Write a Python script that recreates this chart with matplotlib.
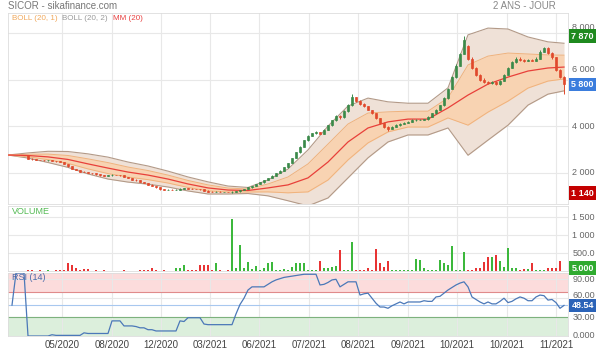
import matplotlib
matplotlib.use('Agg')
import matplotlib.pyplot as plt
import numpy as np

plt.rcParams['font.family'] = ['Liberation Sans', 'DejaVu Sans']

W, H = 600, 351

# ---- données ----
first_candle = 5          # les 5 premières séances : cours plat, pas de bougie

opens = [2760, 2620, 2580, 2560, 2550, 2540, 2540, 2520, 2500, 2470,
         2380, 2280, 2180, 2120, 2060, 2040, 2000, 1980, 1940, 1900,
         1870, 1900, 1920, 1910, 1900, 1830, 1780, 1720, 1680, 1620,
         1560, 1500, 1440, 1380, 1300, 1290, 1290, 1280, 1290, 1330,
         1350, 1330, 1320, 1310, 1300, 1240, 1200, 1190, 1200, 1190,
         1190, 1180, 1200, 1210, 1260, 1310, 1380, 1450, 1520, 1600,
         1690, 1790, 1890, 1990, 2100, 2240, 2420, 2640, 2880, 3130,
         3400, 3600, 3700, 3750, 3680, 3850, 4050, 4250, 4450, 4380,
         4650, 4900, 5250, 5100, 4950, 4850, 4700, 4550, 4350, 4150,
         3980, 3900, 3980, 4050, 4100, 4150, 4200, 4250, 4270, 4280,
         4300, 4420, 4550, 4700, 4900, 5200, 5600, 6100, 6600, 7100,
         7450, 6900, 6500, 6200, 6000, 5900, 5850, 5900, 5800, 5950,
         6200, 6500, 6750, 6900, 6850, 6800, 6850, 6820, 6900, 7200,
         7350, 7150, 6950, 6400, 6100]
closes = [2620, 2580, 2560, 2550, 2540, 2540, 2520, 2500, 2470, 2380,
          2280, 2180, 2120, 2060, 2040, 2000, 1980, 1940, 1900, 1870,
          1900, 1920, 1910, 1900, 1830, 1780, 1720, 1680, 1620, 1560,
          1500, 1440, 1380, 1300, 1290, 1290, 1280, 1290, 1330, 1350,
          1330, 1320, 1310, 1300, 1240, 1200, 1190, 1200, 1190, 1190,
          1180, 1200, 1210, 1260, 1310, 1380, 1450, 1520, 1600, 1690,
          1790, 1890, 1990, 2100, 2240, 2420, 2640, 2880, 3130, 3400,
          3600, 3700, 3750, 3680, 3850, 4050, 4250, 4450, 4380, 4650,
          4900, 5250, 5100, 4950, 4850, 4700, 4550, 4350, 4150, 3980,
          3900, 3980, 4050, 4100, 4150, 4200, 4250, 4270, 4280, 4300,
          4420, 4550, 4700, 4900, 5200, 5600, 6100, 6600, 7100, 7700,
          6900, 6500, 6200, 6000, 5900, 5850, 5900, 5800, 5950, 6200,
          6500, 6750, 6900, 6850, 6800, 6850, 6820, 6900, 7200, 7350,
          7150, 6950, 6400, 6100, 5800]
highs = [2780, 2630, 2590, 2570, 2560, 2550, 2550, 2530, 2510, 2480,
         2390, 2290, 2190, 2130, 2070, 2050, 2010, 1990, 1950, 1910,
         1910, 1940, 1930, 1920, 1900, 1840, 1790, 1730, 1690, 1630,
         1570, 1510, 1450, 1390, 1310, 1300, 1300, 1300, 1340, 1370,
         1360, 1340, 1330, 1320, 1310, 1250, 1210, 1210, 1210, 1200,
         1200, 1210, 1220, 1270, 1320, 1390, 1460, 1530, 1610, 1700,
         1800, 1900, 2000, 2110, 2260, 2440, 2660, 2900, 3160, 3420,
         3620, 3730, 3800, 3760, 3870, 4070, 4270, 4480, 4470, 4680,
         4950, 5390, 5260, 5120, 4980, 4870, 4720, 4570, 4370, 4170,
         4020, 4000, 4080, 4130, 4180, 4230, 4300, 4300, 4310, 4330,
         4450, 4580, 4730, 4930, 5250, 5650, 6150, 6650, 7150, 7870,
         7500, 6950, 6550, 6250, 6050, 5950, 5950, 5950, 5970, 6230,
         6550, 6800, 6950, 6950, 6900, 6900, 6900, 6950, 7250, 7400,
         7400, 7200, 6980, 6450, 6150]
lows = [2600, 2560, 2540, 2540, 2530, 2530, 2510, 2490, 2460, 2370,
        2270, 2170, 2110, 2050, 2030, 1990, 1970, 1930, 1890, 1860,
        1860, 1890, 1900, 1890, 1820, 1770, 1710, 1670, 1610, 1550,
        1490, 1430, 1370, 1290, 1280, 1280, 1270, 1270, 1280, 1320,
        1320, 1310, 1300, 1290, 1230, 1190, 1180, 1180, 1180, 1180,
        1170, 1140, 1190, 1200, 1250, 1300, 1370, 1440, 1510, 1590,
        1680, 1780, 1880, 1980, 2090, 2230, 2410, 2630, 2870, 3110,
        3380, 3580, 3680, 3650, 3650, 3830, 4030, 4230, 4330, 4360,
        4630, 4880, 5050, 4920, 4820, 4680, 4520, 4330, 4120, 3940,
        3780, 3880, 3960, 4030, 4080, 4130, 4180, 4230, 4250, 4260,
        4280, 4400, 4530, 4680, 4880, 5180, 5580, 6080, 6580, 7080,
        6850, 6450, 6150, 5950, 5850, 5800, 5820, 5750, 5780, 5930,
        6180, 6480, 6720, 6800, 6750, 6780, 6780, 6800, 6880, 7180,
        7100, 6900, 6380, 6050, 5400]
volumes = [20, 15, 10, 15, 10, 20, 10, 15, 20, 30,
           220, 160, 80, 20, 60, 50, 10, 15, 10, 20,
           10, 5, 5, 10, 15, 10, 5, 10, 20, 30,
           40, 80, 20, 10, 15, 5, 10, 75, 75, 160,
           30, 40, 40, 170, 170, 170, 20, 210, 30, 10,
           20, 1440, 70, 720, 70, 240, 60, 150, 40, 70,
           215, 240, 20, 30, 60, 40, 120, 215, 210, 210,
           20, 20, 20, 280, 70, 70, 120, 150, 580, 30,
           30, 800, 30, 30, 40, 70, 30, 600, 210, 120,
           280, 40, 40, 40, 20, 20, 20, 330, 310, 70,
           20, 20, 20, 310, 210, 160, 690, 40, 30, 520,
           40, 30, 70, 70, 240, 400, 380, 440, 280, 120,
           650, 70, 70, 20, 60, 60, 210, 20, 20, 30,
           70, 70, 70, 280, 5]

rsi = [np.nan, 49, 100, 100, 100, 0, 0, 0, 0, 0,
       0, 2, 1, 1, 1, 1, 1, 1, 1, 5,
       4, 4, 4, 4, 4, 4, 24, 24, 24, 16,
       16, 16, 15, 13, 13, 10, 10, 8, 8, 8,
       8, 8, 8, 24, 23, 29, 29, 29, 29, 19,
       18, 18, 18, 18, 18, 18, 18, 35, 50, 60,
       73, 78, 78, 78, 78, 82, 86, 89, 91, 93,
       94, 95, 96, 97, 98, 98, 98, 98, 81, 82,
       85, 89, 90, 78, 82, 86, 86, 86, 65, 67,
       68, 60, 52, 46, 46, 44, 48, 51, 54, 51,
       54, 54, 54, 54, 56, 55, 55, 62, 63, 68,
       73, 77, 81, 84, 86, 78, 62, 58, 54, 51,
       54, 51, 51, 55, 60, 53, 55, 59, 62, 60,
       56, 56, 62, 65, 64, 57, 58, 53, 44, 48.54]

# moyenne mobile 20 et écart-type (bandes de Bollinger), relevés tous les 5 points
band_x = [0, 5, 10, 15, 20, 25, 30, 35, 40, 45, 50, 55, 60, 65, 70,
          75, 80, 85, 90, 95, 100, 105, 110, 115, 120, 125, 130, 135, 139]
mm20 = [2770, 2750, 2690, 2580, 2390, 2210, 2040, 1910, 1740, 1530, 1360, 1270, 1250, 1360, 1490,
        1790, 2470, 3330, 3930, 4190, 4310, 4310, 4790, 5340, 5810, 6110, 6370, 6500, 6540]
sd20 = [0, 55, 120, 170, 215, 235, 215, 195, 170, 150, 130, 85, 65, 170, 340,
        600, 770, 770, 640, 430, 340, 340, 430, 1290, 1200, 1030, 730, 560, 510]

date_pos = [13.5, 26, 38.25, 50.5, 62.75, 75.25, 87.5, 100, 112.25, 124.75, 137]
date_labels = ['05/2020', '08/2020', '12/2020', '03/2021', '06/2021', '07/2021',
               '08/2021', '09/2021', '10/2021', '10/2021', '11/2021']
price_ticks = [8000, 6000, 4000, 2000]
price_tick_labels = ['8 000', '6 000', '4 000', '2 000']
vol_ticks = [1500, 1000, 500]
vol_tick_labels = ['1 500', '1 000', '500.0']
rsi_ticks = [90, 60, 30, 0]
rsi_tick_labels = ['90.00', '60.00', '30.00', '0.000']

# ---- couleurs ----
UP, DOWN = '#3b8a4a', '#e0492c'
VUP, VDOWN = '#3cb83c', '#e83434'
GRID = '#e8e8e8'
LBL = '#666666'

fig = plt.figure(figsize=(W / 100, H / 100), dpi=100)


def px_box(x0, y0, x1, y1):
    return [x0 / W, 1 - y1 / H, (x1 - x0) / W, (y1 - y0) / H]


ax = fig.add_axes(px_box(8, 13, 568, 204))
axv = fig.add_axes(px_box(8, 206, 568, 271), sharex=ax)
axr = fig.add_axes(px_box(8, 273, 568, 336), sharex=ax)

x = np.arange(first_candle, first_candle + len(closes))
o = np.array(opens, float)
c = np.array(closes, float)
up = c >= o

# bandes
bx = np.array(band_x)
m = np.array(mm20, float)
s = np.array(sd20, float)
ax.fill_between(bx, m - 2 * s, m + 2 * s, color='#efe1d7', lw=0, zorder=1)
ax.plot(bx, m + 2 * s, color='#b39a88', lw=0.8, zorder=2)
ax.plot(bx, m - 2 * s, color='#b39a88', lw=0.8, zorder=2)
ax.fill_between(bx, m - s, m + s, color='#f8d3b2', lw=0, zorder=2)
ax.plot(bx, m + s, color='#f0b27c', lw=0.7, zorder=3)
ax.plot(bx, m - s, color='#f0b27c', lw=0.7, zorder=3)
ax.plot(bx, m, color='#e8403a', lw=0.9, zorder=4)

# bougies
cols = np.where(up, UP, DOWN)
ax.vlines(x, lows, highs, colors=cols, lw=0.7, zorder=5)
ax.bar(x, np.abs(c - o), bottom=np.minimum(o, c), width=0.7, color=cols,
       edgecolor=cols, lw=0.5, zorder=6)

ax.set_xlim(0, 140)
ax.set_ylim(671, 8857)

# volume
axv.bar(x, volumes, width=0.6, color=np.where(up, VUP, VDOWN), zorder=3)
axv.set_ylim(0, 1806)

# RSI
axr.axhspan(70, 100, color='#fcdcdc', lw=0, zorder=0)
axr.axhspan(0, 30, color='#dcefdc', lw=0, zorder=0)
axr.axhline(70, color='#e08a8a', lw=0.8, zorder=1)
axr.axhline(30, color='#7db27d', lw=0.8, zorder=1)
axr.axhline(50, color='#a8c8ef', lw=0.8, zorder=1)
axr.plot(np.arange(len(rsi)), rsi, color='#4b78b8', lw=0.9, zorder=3)
axr.set_ylim(0, 100)

for a, yt in ((ax, price_ticks), (axv, vol_ticks), (axr, rsi_ticks)):
    a.set_yticks(yt)
    a.set_xticks(date_pos)
    a.grid(True, color=GRID, lw=0.8, zorder=0)
    a.set_axisbelow(True)
    a.tick_params(length=0, labelleft=False, labelright=False, labelbottom=False)
    for sp in a.spines.values():
        sp.set_color('#dddddd')
        sp.set_linewidth(0.6)

axr.set_xticks(date_pos, date_labels)
axr.tick_params(axis='x', labelbottom=True, labelsize=7, labelcolor='#444444', pad=3)

# libellés de droite (décalés en pixels quand une étiquette de valeur les recouvre)
label_shift_px = {(0, 8000): 5, (0, 6000): 10, (2, 60): 3}
for k, (a, vals, labs) in enumerate(((ax, price_ticks, price_tick_labels),
                                     (axv, vol_ticks, vol_tick_labels),
                                     (axr, rsi_ticks, rsi_tick_labels))):
    tr = a.get_yaxis_transform()
    for v, lab in zip(vals, labs):
        dy = label_shift_px.get((k, v), 0)
        a.annotate(lab, xy=(1.008, v), xycoords=tr, xytext=(0, dy * 0.72),
                   textcoords='offset points', fontsize=6.5, color=LBL,
                   va='center', ha='left', annotation_clip=False)


def value_box(a, v, text, color):
    a.text(1.006, v, text, transform=a.get_yaxis_transform(), fontsize=6.5,
           color='white', weight='bold', va='center', ha='left', clip_on=False,
           bbox=dict(boxstyle='square,pad=0.25', fc=color, ec='none'), zorder=10)


value_box(ax, max(highs), '7 870', '#1f8a1f')
value_box(ax, closes[-1], '5 800', '#3b7ddd')
value_box(ax, min(lows), '1 140', '#c40000')
value_box(axv, 80, '5.000', '#2faa2f')
value_box(axr, rsi[-1], '48.54', '#2b63b8')

# titres et légendes
fig.text(8 / W, 1 - 6 / H, 'SICOR - sikafinance.com', fontsize=7, color='#777777', va='center')
fig.text(556 / W, 1 - 6 / H, '2 ANS - JOUR', fontsize=7, color='#888888', va='center', ha='right')
fig.text(12 / W, 1 - 18 / H, 'BOLL (20, 1)', fontsize=5.8, color='#f0a85c', va='center')
fig.text(62 / W, 1 - 18 / H, 'BOLL (20, 2)', fontsize=5.8, color='#999999', va='center')
fig.text(113 / W, 1 - 18 / H, 'MM (20)', fontsize=5.8, color='#e84040', va='center')
fig.text(12 / W, 1 - 212 / H, 'VOLUME', fontsize=6.5, color='#55bb55', va='center')
fig.text(12 / W, 1 - 278 / H, 'RSI (14)', fontsize=6.5, color='#4a68a8', va='center')

fig.savefig('out.png', dpi=100, facecolor='white')
